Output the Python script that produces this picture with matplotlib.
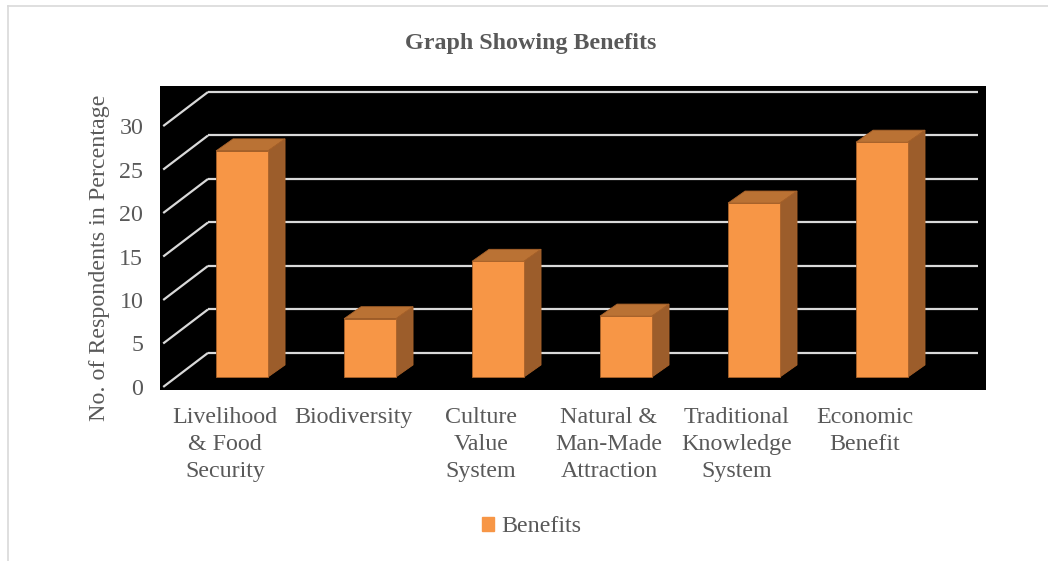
import matplotlib.pyplot as plt
from matplotlib.patches import Polygon, Patch
import numpy as np

# ── Data ──────────────────────────────────────────────────────────────────────
categories = [
    "Livelihood\n& Food\nSecurity",
    "Biodiversity",
    "Culture\nValue\nSystem",
    "Natural &\nMan-Made\nAttraction",
    "Traditional\nKnowledge\nSystem",
    "Economic\nBenefit",
]
values = [26.0, 6.7, 13.3, 7.0, 20.0, 27.0]
y_ticks = [0, 5, 10, 15, 20, 25, 30]
series_name = "Benefits"

# ── Style ─────────────────────────────────────────────────────────────────────
FRONT = "#F79646"
TOP = "#BA7234"
SIDE = "#9C5D2B"
EDGE = "#A8622A"
GRID = "#D9D9D9"
TEXT = "#595959"
FS = 17.3
plt.rcParams["font.family"] = ["Liberation Serif", "DejaVu Serif"]

# 3D offsets in data units (x: category, y: value), relative to bar front plane
BAR_W = 0.406
BAR_DX, BAR_DY = 0.133, 1.38        # bar depth
BACK_DX, BACK_DY = 0.25, 2.77       # back wall
FRONT_DX, FRONT_DY = -0.10, -1.15   # front floor edge
WALL_X0, WALL_X1 = -0.266, 5.75

fig = plt.figure(figsize=(10.48, 5.61), dpi=100)
ax = fig.add_axes([160 / 1048, 1 - 390 / 561, 826 / 1048, 304 / 561])
ax.set_facecolor("black")
for s in ax.spines.values():
    s.set_visible(False)
ax.set_xlim(-0.641, 5.8125)
ax.set_ylim(-1.5, 33.46)

# gridlines: back wall + side-wall diagonals
for v in y_ticks:
    ax.plot([WALL_X0, WALL_X1], [v + BACK_DY, v + BACK_DY],
            color=GRID, lw=1.6, zorder=1, solid_capstyle="butt")
    ax.plot([WALL_X0 - (BACK_DX - FRONT_DX), WALL_X0],
            [v + FRONT_DY, v + BACK_DY],
            color=GRID, lw=1.6, zorder=1, solid_capstyle="butt")

# bars
x = np.arange(len(values))
ax.bar(x, values, width=BAR_W, color=FRONT, edgecolor=EDGE, lw=0.6, zorder=4)
for xi, v in zip(x, values):
    l, r = xi - BAR_W / 2, xi + BAR_W / 2
    top = [(l, v), (r, v), (r + BAR_DX, v + BAR_DY), (l + BAR_DX, v + BAR_DY)]
    side = [(r, 0), (r, v), (r + BAR_DX, v + BAR_DY), (r + BAR_DX, BAR_DY)]
    ax.add_patch(Polygon(top, closed=True, fc=TOP, ec=EDGE, lw=0.6, zorder=3))
    ax.add_patch(Polygon(side, closed=True, fc=SIDE, ec=EDGE, lw=0.6, zorder=3))

# axes labels
ax.set_yticks([v + FRONT_DY for v in y_ticks])
ax.set_yticklabels([str(v) for v in y_ticks], fontsize=FS, color=TEXT)
ax.set_xticks(x - 0.133)
ax.set_xticklabels(categories, fontsize=FS, color=TEXT, linespacing=1.4)
ax.tick_params(axis="y", length=0, pad=12)
ax.tick_params(axis="x", length=0, pad=12)
ax.set_ylabel("No. of Respondents in Percentage", fontsize=FS, color=TEXT)
ax.yaxis.set_label_coords(-0.0605, 0.434)

fig.text(531 / 1048, 1 - 44 / 561, "Graph Showing Benefits", ha="center",
         va="center", fontsize=FS, fontweight="bold", color=TEXT)

fig.legend(handles=[Patch(facecolor=FRONT, edgecolor=FRONT, label=series_name)],
           loc="center", bbox_to_anchor=(532 / 1048, 1 - 527 / 561),
           frameon=False, fontsize=FS, handlelength=0.5, handleheight=0.5,
           handletextpad=0.3, labelcolor=TEXT)

# outer chart border
fig.add_artist(plt.Line2D([8 / 1048, 8 / 1048], [0, 1 - 6 / 561],
                          transform=fig.transFigure, color=GRID, lw=1.2))
fig.add_artist(plt.Line2D([8 / 1048, 1], [1 - 6 / 561, 1 - 6 / 561],
                          transform=fig.transFigure, color=GRID, lw=1.2))

fig.savefig("out.png", dpi=100)
